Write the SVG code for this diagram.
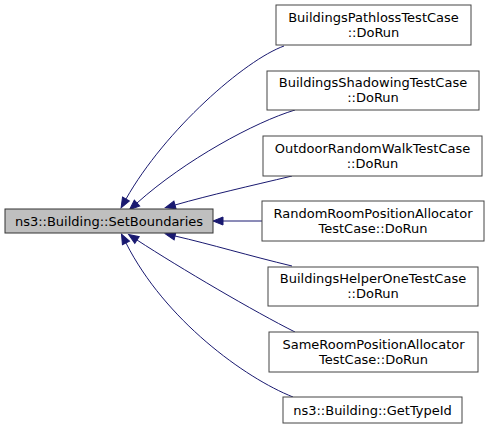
<svg xmlns="http://www.w3.org/2000/svg" width="491" height="429" viewBox="0 0 491 429">
<style>
.box{fill:#ffffff;stroke:#444444;stroke-width:1}
.main{fill:#bfbfbf;stroke:#333333;stroke-width:1}
.t{font-family:"DejaVu Sans",sans-serif;font-size:13px;fill:#000000;text-anchor:middle}
.e{fill:none;stroke:#191970;stroke-width:1;marker-end:url(#ah)}
</style>
<defs>
<marker id="ah" markerUnits="userSpaceOnUse" markerWidth="11" markerHeight="8" refX="0" refY="4" orient="auto" overflow="visible">
<path d="M0,0 L10,4 L0,8 z" fill="#191970" stroke="#191970"/>
</marker>
</defs>
<g id="connectors">
<path class="e" d="M284,46 C245,60 165,130 126,199"/>
<path class="e" d="M295,110 C255,122 185,160 137,203"/>
<path class="e" d="M292,176 C250,186 210,195 175,205"/>
<path class="e" d="M262,221 L223,221"/>
<path class="e" d="M292,266 C250,256 210,244 175,236"/>
<path class="e" d="M295,332 C255,312 180,268 137,240"/>
<path class="e" d="M293,397 C245,378 165,320 126,243"/>
</g>
<g id="main">
<rect class="main" x="5" y="209" width="208" height="24"/>
<text class="t" x="109" y="226">ns3::Building::SetBoundaries</text>
</g>
<g id="n1">
<rect class="box" x="276" y="5" width="195" height="40"/>
<text class="t" x="373.5" y="22">BuildingsPathlossTestCase</text>
<text class="t" x="373.5" y="37">::DoRun</text>
</g>
<g id="n2">
<rect class="box" x="267" y="71" width="212" height="39"/>
<text class="t" x="373" y="87">BuildingsShadowingTestCase</text>
<text class="t" x="373" y="102">::DoRun</text>
</g>
<g id="n3">
<rect class="box" x="263" y="136" width="219" height="40"/>
<text class="t" x="372.5" y="153">OutdoorRandomWalkTestCase</text>
<text class="t" x="372.5" y="168">::DoRun</text>
</g>
<g id="n4">
<rect class="box" x="262" y="201" width="222" height="40"/>
<text class="t" x="373" y="218">RandomRoomPositionAllocator</text>
<text class="t" x="373" y="233">TestCase::DoRun</text>
</g>
<g id="n5">
<rect class="box" x="268" y="267" width="210" height="39"/>
<text class="t" x="373" y="283">BuildingsHelperOneTestCase</text>
<text class="t" x="373" y="298">::DoRun</text>
</g>
<g id="n6">
<rect class="box" x="269" y="332" width="209" height="40"/>
<text class="t" x="373.5" y="349">SameRoomPositionAllocator</text>
<text class="t" x="373.5" y="364">TestCase::DoRun</text>
</g>
<g id="n7">
<rect class="box" x="283" y="397" width="179" height="26"/>
<text class="t" x="372.5" y="415">ns3::Building::GetTypeId</text>
</g>
</svg>
